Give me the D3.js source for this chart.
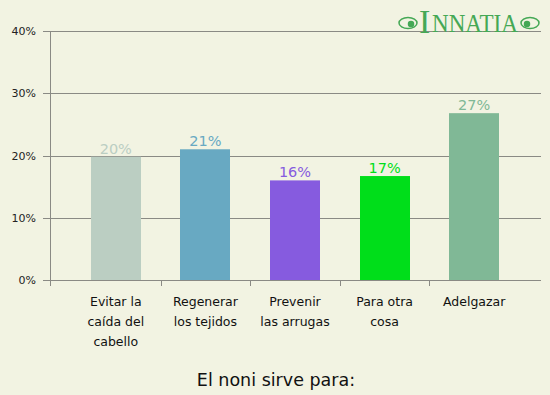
<!DOCTYPE html>
<html>
<head>
<meta charset="utf-8">
<script src="https://cdn.jsdelivr.net/npm/d3@7"></script>
<style>
body { margin:0; background:#f2f3e2; }
svg { display:block; font-family:"DejaVu Sans", Verdana, sans-serif; }
</style>
</head>
<body>
<svg id="chart"></svg>
<script>
// data
var categories = ["Evitar la|caída del|cabello", "Regenerar|los tejidos", "Prevenir|las arrugas", "Para otra|cosa", "Adelgazar"];
var values = [19.8, 21.0, 16.0, 16.7, 26.8];
var labels = ["20%", "21%", "16%", "17%", "27%"];
var colors = ["#bbcec2", "#68a9c2", "#865bdf", "#00de1a", "#80b896"];
var yTicks = [0, 10, 20, 30, 40];
var title = "El noni sirve para:";

var svgWidth = 550, svgHeight = 395;
var svg = d3.select("#chart")
	.attr("width", svgWidth)
	.attr("height", svgHeight);

svg.append("rect").attr("width", svgWidth).attr("height", svgHeight).attr("fill", "#f2f3e2");

var plotL = 50, plotR = 541, plotT = 31, plotB = 280;

var x = d3.scaleBand()
	.domain(categories)
	.range([71, 519])
	.padding(0);

var y = d3.scaleLinear()
	.domain([0, 40])
	.range([plotB, plotT]);

// grid + y ticks
svg.append("g").selectAll("line")
	.data(yTicks)
	.enter().append("line")
	.attr("x1", plotL - 7).attr("x2", plotR)
	.attr("y1", function(d){ return Math.round(y(d)) + 0.5; })
	.attr("y2", function(d){ return Math.round(y(d)) + 0.5; })
	.attr("stroke", "#8a8a84").attr("stroke-width", 1);

svg.append("g").selectAll("text")
	.data(yTicks)
	.enter().append("text")
	.attr("x", 36)
	.attr("y", function(d){ return y(d) + 4; })
	.attr("text-anchor", "end")
	.attr("font-size", 11)
	.attr("fill", "#222")
	.text(function(d){ return d + "%"; });

// y axis line
svg.append("line")
	.attr("x1", plotL + 0.5).attr("x2", plotL + 0.5)
	.attr("y1", plotT).attr("y2", plotB + 6)
	.attr("stroke", "#8a8a84");

// x ticks at band edges
var edges = [plotL].concat(categories.slice(1).map(function(c){ return Math.round(x(c)); }));
svg.append("g").selectAll("line")
	.data(edges)
	.enter().append("line")
	.attr("x1", function(d){ return d + 0.5; })
	.attr("x2", function(d){ return d + 0.5; })
	.attr("y1", plotB).attr("y2", plotB + 6)
	.attr("stroke", "#8a8a84");

var barW = 50;
var bars = svg.append("g").selectAll("g")
	.data(values)
	.enter().append("g");

bars.append("rect")
	.attr("x", function(d, i){ return Math.round(x(categories[i]) + (x.bandwidth() - barW) / 2); })
	.attr("y", function(d){ return y(d); })
	.attr("width", barW)
	.attr("height", function(d){ return y(0) - y(d); })
	.attr("fill", function(d, i){ return colors[i]; });

bars.append("text")
	.attr("x", function(d, i){ return x(categories[i]) + x.bandwidth() / 2; })
	.attr("y", function(d){ return y(d) - 3; })
	.attr("text-anchor", "middle")
	.attr("font-size", 14.5)
	.attr("fill", function(d, i){ return colors[i]; })
	.text(function(d, i){ return labels[i]; });

// category labels
var cat = svg.append("g").selectAll("text")
	.data(categories)
	.enter().append("text")
	.attr("text-anchor", "middle")
	.attr("font-size", 12.5)
	.attr("fill", "#111");
cat.each(function(c){
	var t = d3.select(this);
	c.split("|").forEach(function(line, k){
		t.append("tspan")
			.attr("x", x(c) + x.bandwidth() / 2)
			.attr("y", 306 + k * 20)
			.text(line);
	});
});

svg.append("text")
	.attr("x", 276).attr("y", 386)
	.attr("text-anchor", "middle")
	.attr("font-size", 17.5)
	.attr("fill", "#111")
	.text(title);

// logo
var logo = svg.append("g").attr("fill", "none").attr("stroke", "#45a855").attr("stroke-width", 1.5);
logo.append("ellipse").attr("cx", 408).attr("cy", 23).attr("rx", 9).attr("ry", 5.5);
logo.append("circle").attr("cx", 411).attr("cy", 24).attr("r", 2.5).attr("fill", "#45a855");
logo.append("ellipse").attr("cx", 530).attr("cy", 23).attr("rx", 9).attr("ry", 5.5);
logo.append("circle").attr("cx", 527).attr("cy", 24).attr("r", 2.5).attr("fill", "#45a855");
svg.append("text")
	.attr("x", 419).attr("y", 33)
	.attr("font-family", "'Liberation Serif', serif")
	.attr("font-size", 34)
	.attr("fill", "#45a855")
	.text("I");
svg.append("text")
	.attr("x", 432).attr("y", 32)
	.attr("font-family", "'Liberation Serif', serif")
	.attr("font-size", 25)
	.attr("textLength", 86)
	.attr("lengthAdjust", "spacingAndGlyphs")
	.attr("fill", "#45a855")
	.text("NNATIA");
</script>
</body>
</html>
